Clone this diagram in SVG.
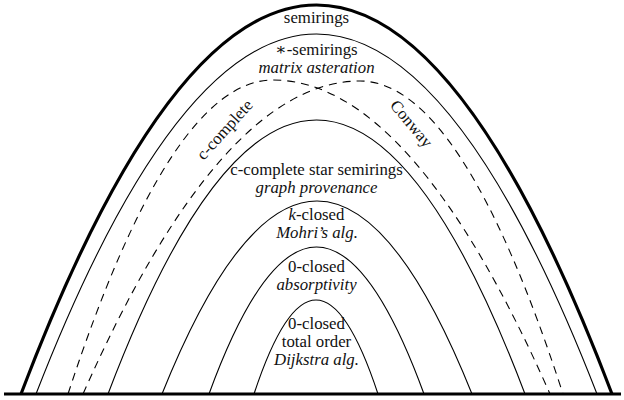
<svg xmlns="http://www.w3.org/2000/svg" width="624" height="400" viewBox="0 0 624 400">
<style>
.arc{fill:none;stroke:#000;stroke-width:1.1}
.thick{fill:none;stroke:#000;stroke-width:3.2}
.dash{fill:none;stroke:#000;stroke-width:1.1;stroke-dasharray:8 6}
.lbl{font-family:'Liberation Serif','Times New Roman','DejaVu Serif',serif;font-size:16.8px;fill:#111;text-anchor:middle}
.it{font-style:italic}
</style>
<rect width="624" height="400" fill="#fff"/>
<g id="semirings" class="lbl">
<path class="thick" d="M21 394 Q168.75 5 316.5 5 Q464.25 5 612 394"/>
<text x="316.5" y="23">semirings</text>
</g>
<g id="star-semirings" class="lbl">
<path class="arc" d="M36 394 Q176 34 316.5 34 Q457 34 597 394"/>
<text x="316.5" y="55">∗-semirings</text>
<text class="it" x="316.5" y="73">matrix asteration</text>
</g>
<g id="c-complete" class="lbl">
<path class="dash" d="M68 394 Q170.5 80 273 80 Q411.5 80 550 394"/>
<text transform="translate(225 130) rotate(-48)" y="5">c-complete</text>
</g>
<g id="conway" class="lbl">
<path class="dash" d="M83 394 Q221.5 81 360 81 Q461.5 81 563 394"/>
<text transform="translate(411 124) rotate(50)" y="5">Conway</text>
</g>
<g id="c-complete-star" class="lbl">
<path class="arc" d="M108 394 Q212 120 316.5 120 Q421 120 525 394"/>
<text x="316.5" y="175">c-complete star semirings</text>
<text class="it" x="316.5" y="193">graph provenance</text>
</g>
<g id="k-closed" class="lbl">
<path class="arc" d="M162 394 Q239.5 201 317 201 Q394.5 201 472 394"/>
<text x="316.5" y="220"><tspan class="it">k</tspan>-closed</text>
<text class="it" x="317" y="238">Mohri’s alg.</text>
</g>
<g id="zero-closed" class="lbl">
<path class="arc" d="M209 394 Q262.75 247 316.5 247 Q370.25 247 424 394"/>
<text x="316.5" y="272">0-closed</text>
<text class="it" x="316.5" y="290">absorptivity</text>
</g>
<g id="zero-closed-total" class="lbl">
<path class="arc" d="M254 394 Q285 300 316 300 Q347 300 378 394"/>
<text x="316.5" y="329">0-closed</text>
<text x="316.5" y="347">total order</text>
<text class="it" x="316.5" y="365">Dijkstra alg.</text>
</g>
<g id="connectors">
<line x1="4" y1="394" x2="621" y2="394" stroke="#000" stroke-width="3"/>
</g>
</svg>
